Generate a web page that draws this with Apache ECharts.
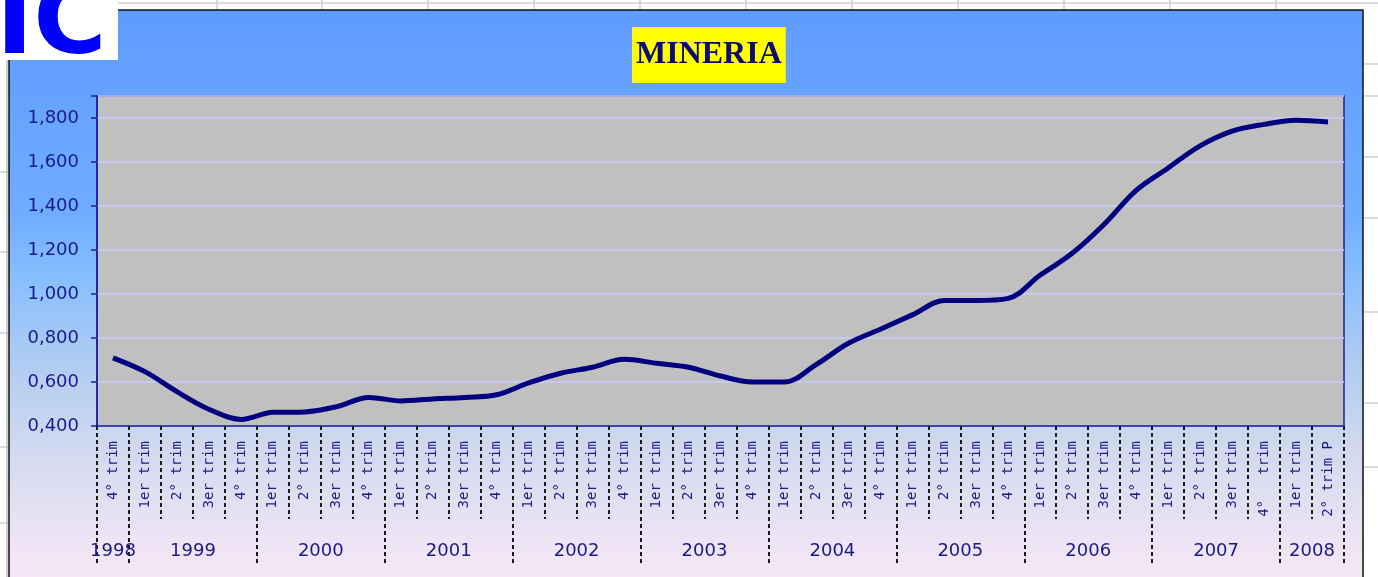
<!DOCTYPE html>
<html><head><meta charset="utf-8">
<script src="https://cdn.jsdelivr.net/npm/echarts@6/dist/echarts.min.js"></script>
<style>html,body{margin:0;padding:0;background:#fff}#c{width:1378px;height:577px}</style>
</head><body><div id="c"></div>
<script>
const title = 'MINERIA';
const quarters = [
  '4° trim',
  '1er trim','2° trim','3er trim','4° trim',
  '1er trim','2° trim','3er trim','4° trim',
  '1er trim','2° trim','3er trim','4° trim',
  '1er trim','2° trim','3er trim','4° trim',
  '1er trim','2° trim','3er trim','4° trim',
  '1er trim','2° trim','3er trim','4° trim',
  '1er trim','2° trim','3er trim','4° trim',
  '1er trim','2° trim','3er trim','4° trim',
  '1er trim','2° trim','3er trim','4°   trim',
  '1er trim','2° trim P'
];
const values = [
  0.710,
  0.647, 0.556, 0.476, 0.430,
  0.462, 0.464, 0.488, 0.530,
  0.514, 0.523, 0.530, 0.542,
  0.596, 0.640, 0.667, 0.703,
  0.685, 0.667, 0.627, 0.600,
  0.600, 0.680, 0.776, 0.840,
  0.905, 0.970, 0.970, 0.980,
  1.086, 1.185, 1.317, 1.471,
  1.573, 1.673, 1.740, 1.771,
  1.790, 1.782
];
const years = ['1998','1999','2000','2001','2002','2003','2004','2005','2006','2007','2008'];
const quartersPerYear = [1,4,4,4,4,4,4,4,4,4,2];
const yTicks = [0.4, 0.6, 0.8, 1.0, 1.2, 1.4, 1.6, 1.8];

// Build half-step year axis (points at every quarter boundary and center)
const yearAxisData = new Array(quarters.length * 2 + 1).fill('');
const yearTickIdx = new Set([0]);
const yearLabelIdx = new Set();
let qPos = 0;
years.forEach((y, i) => {
  const n = quartersPerYear[i];
  const center = qPos * 2 + n;
  yearAxisData[center] = y;
  yearLabelIdx.add(center);
  qPos += n;
  yearTickIdx.add(qPos * 2);
});

const navy = '#1A1A8A';
const dashStyle = { type: [4, 3], color: '#1a1a1a', width: 2 };

// decorative spreadsheet grid lines around the chart frame
const deco = [];
[217,322,428,534,640,746,852,958,1064,1170,1276].forEach(x => deco.push({type:'line', z:-2, shape:{x1:x,y1:0,x2:x,y2:10}, style:{stroke:'#D0D0D0', lineWidth:1.5}}));
deco.push({type:'line', z:-2, shape:{x1:118,y1:3,x2:1378,y2:3}, style:{stroke:'#D0D0D0', lineWidth:1.5}});
[64,96,157,218,312,403,467].forEach(y => deco.push({type:'line', z:-2, shape:{x1:1364,y1:y,x2:1378,y2:y}, style:{stroke:'#D0D0D0', lineWidth:1.5}}));
[172,252,333,447,523].forEach(y => deco.push({type:'line', z:-2, shape:{x1:0,y1:y,x2:8,y2:y}, style:{stroke:'#D0D0D0', lineWidth:1.5}}));
deco.push({type:'line', z:-2, shape:{x1:7,y1:60,x2:7,y2:577}, style:{stroke:'#A0A0A0', lineWidth:1}});

const chart = echarts.init(document.getElementById('c'), null, {renderer:'canvas'});
chart.setOption({
  animation: false,
  backgroundColor: '#ffffff',
  graphic: deco.concat([
    { type:'rect', z:-1, shape:{x:9, y:10, width:1354, height:590},
      style:{ fill: new echarts.graphic.LinearGradient(0,0,0,1,[
        {offset:0, color:'#5E9BFF'},
        {offset:0.35, color:'#70ADFF'},
        {offset:0.45, color:'#86BEFF'},
        {offset:0.6, color:'#B0CCF2'},
        {offset:0.75, color:'#D2DAEF'},
        {offset:0.9, color:'#EEE4F5'},
        {offset:1, color:'#FCE8F8'}]),
        stroke:'#111', lineWidth:1.5 } },
    { type:'rect', z:10, shape:{x:0, y:0, width:118, height:60}, style:{fill:'#ffffff'} },
    { type:'text', z:11, x:-4, y:-23, style:{ text:'IC', fill:'#0000FF', font:'bold 100px "DejaVu Sans"', verticalAlign:'top' } }
  ]),
  title: {
    text: title, left: 632, top: 27, padding: [12, 4],
    backgroundColor: '#FFFF00',
    textStyle: { fontFamily: '"Liberation Serif"', fontWeight: 'bold', fontSize: 32, color: '#0B0B70' }
  },
  grid: { left: 97, right: 34, top: 96, bottom: 151, show: true,
    backgroundColor: '#C0C0C0', borderColor: '#1E1E9E', borderWidth: 1.5 },
  xAxis: [
    { type: 'category', data: quarters, boundaryGap: true, position: 'bottom',
      axisLine: { show: true, lineStyle: { color: '#1E1E9E', width: 1.5 } },
      axisTick: { show: true, interval: 0, length: 93, lineStyle: dashStyle },
      axisLabel: { interval: 0, rotate: 90, margin: 15, fontFamily: '"DejaVu Sans Mono"', fontSize: 14, color: navy },
      splitLine: { show: false } },
    { type: 'category', data: yearAxisData, boundaryGap: false, position: 'bottom',
      axisLine: { show: false },
      axisTick: { show: true, interval: (i) => yearTickIdx.has(i), length: 139, lineStyle: dashStyle },
      axisLabel: { interval: (i) => yearLabelIdx.has(i), margin: 116, fontFamily: '"DejaVu Sans"', fontSize: 18, color: navy },
      splitLine: { show: false } }
  ],
  yAxis: {
    type: 'value', min: 0.4, max: 1.9, interval: 0.2,
    axisLine: { show: true, lineStyle: { color: '#1E1E9E', width: 1.5 } },
    axisTick: { show: true, length: 6, lineStyle: { color: '#1E1E9E', width: 1.5 } },
    axisLabel: { margin: 18, fontFamily: '"DejaVu Sans"', fontSize: 18, color: navy,
      formatter: (v) => yTicks.some(t => Math.abs(t - v) < 1e-6) ? v.toFixed(3).replace('.', ',') : '' },
    splitLine: { show: true, lineStyle: { color: '#CCCCFF', width: 1.5 } }
  },
  series: [{
    type: 'line', xAxisIndex: 0, data: values, smooth: 0.35, symbol: 'none',
    lineStyle: { color: '#000080', width: 5 }
  }]
});
</script></body></html>
